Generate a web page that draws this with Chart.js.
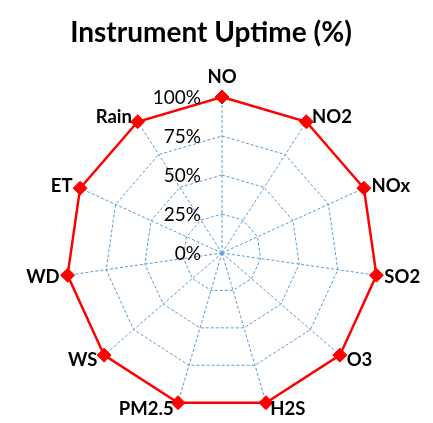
<!DOCTYPE html>
<html lang="en">
<head>
<meta charset="UTF-8">
<title>Instrument Uptime (%)</title>
<script src="https://cdn.jsdelivr.net/npm/chart.js@4.4.6/dist/chart.umd.min.js"></script>
<style>
  html, body { margin: 0; padding: 0; background: #fff; }
  #wrap { width: 433px; height: 423px; position: relative; }
</style>
</head>
<body>
<div id="wrap"><canvas id="chart" width="433" height="423"></canvas></div>
<script>
// ── Data ──────────────────────────────────────────────────────────────────
const categories = ['NO', 'NO2', 'NOx', 'SO2', 'O3', 'H2S', 'PM2.5', 'WS', 'WD', 'ET', 'Rain'];
const uptime     = [100, 100, 100, 100, 100, 100, 100, 100, 100, 100, 100];
const tickValues = [0, 25, 50, 75, 100];
const tickLabels = ['0%', '25%', '50%', '75%', '100%'];
const chartTitle = 'Instrument Uptime (%)';

const FONT = 'Lato, Carlito, "DejaVu Sans", sans-serif';
const GRID = '#5b9bd5';
const CAP = 0.7165; // Lato cap height / em

// ── Excel-style text: title, tick labels left of the axis, labels beside points ──
const excelText = {
  id: 'excelText',
  afterDatasetsDraw(chart) {
    const r = chart.scales.r;
    const ctx = chart.ctx;
    ctx.save();
    ctx.fillStyle = '#000';
    ctx.textBaseline = 'alphabetic';

    // title
    ctx.font = 'bold 28px ' + FONT;
    ctx.textAlign = 'center';
    ctx.fillText(chartTitle, 211, 32 + CAP * 28 / 2);

    // ticks
    ctx.font = '19px ' + FONT;
    ctx.textAlign = 'right';
    tickValues.forEach((v, i) => {
      const y = r.yCenter - r.getDistanceFromCenterForValue(v);
      ctx.fillText(tickLabels[i], r.xCenter - 21, y + CAP * 19 / 2);
    });

    // category labels
    const fs = 18.5;
    ctx.font = 'bold ' + fs + 'px ' + FONT;
    categories.forEach((label, i) => {
      const p = r.getPointPosition(i, r.getDistanceFromCenterForValue(100));
      const a = r.getIndexAngle(i);
      const s = Math.sin(a), c = Math.cos(a);
      let x = p.x, yc;
      if (Math.abs(s) < 0.2) {
        ctx.textAlign = 'center';
        yc = p.y - Math.sign(c) * 21;
      } else {
        const gap = 3 + 5 * Math.abs(s);
        ctx.textAlign = s > 0 ? 'left' : 'right';
        x += s > 0 ? gap : -gap;
        yc = p.y - c * 6;
      }
      ctx.fillText(label, x, yc + CAP * fs / 2);
    });
    ctx.restore();
  }
};

new Chart(document.getElementById('chart'), {
  type: 'radar',
  data: {
    labels: categories,
    datasets: [{
      label: 'Uptime',
      data: uptime,
      borderColor: '#ff0000',
      backgroundColor: 'transparent',
      borderWidth: 2.5,
      pointStyle: 'rectRot',
      pointRadius: 7,
      pointBorderWidth: 1,
      pointBackgroundColor: '#ff0000',
      pointBorderColor: '#ff0000',
      fill: false,
      tension: 0,
    }],
  },
  options: {
    responsive: false,
    animation: false,
    layout: { padding: { top: 97, bottom: 14, left: 11, right: 0 } },
    plugins: {
      legend: { display: false },
      tooltip: { enabled: false },
      title: { display: false },
    },
    scales: {
      r: {
        min: 0,
        max: 100,
        ticks: { stepSize: 25, display: false },
        grid: { color: GRID, lineWidth: 1 },
        border: { dash: [3, 2] },
        angleLines: { color: GRID, lineWidth: 1, borderDash: [3, 2] },
        pointLabels: { display: false },
      },
    },
  },
  plugins: [excelText],
});
</script>
</body>
</html>
